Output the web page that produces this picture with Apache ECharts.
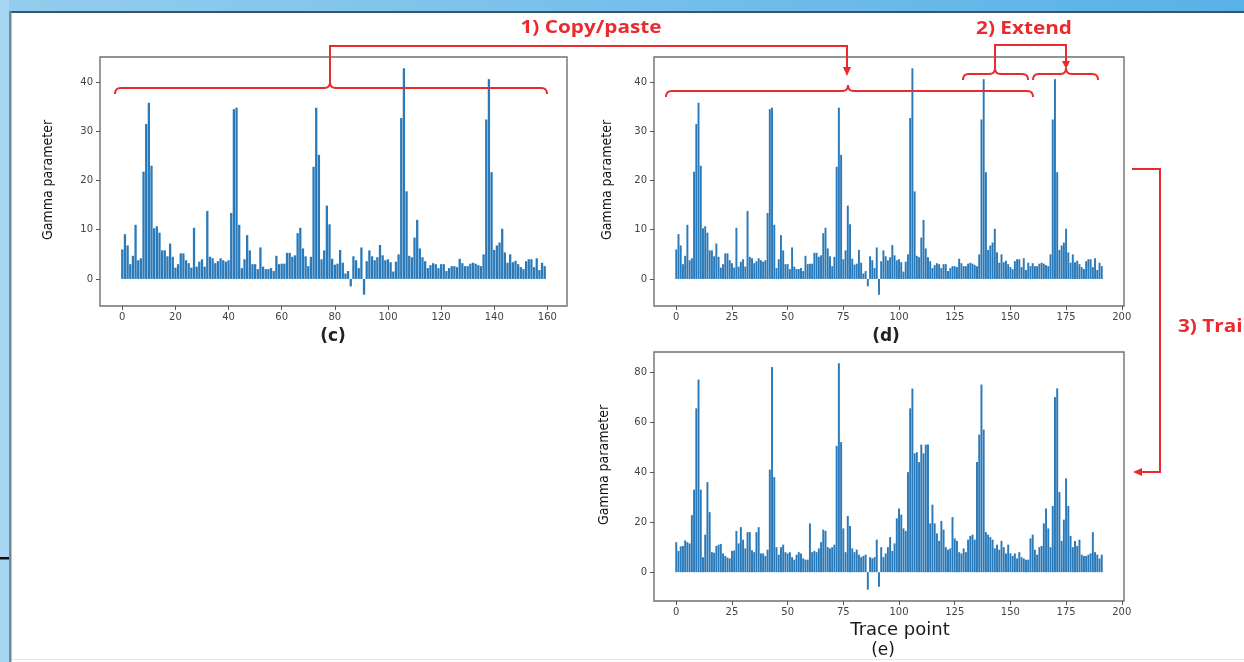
<!DOCTYPE html>
<html>
<head>
<meta charset="utf-8">
<script src="https://cdn.jsdelivr.net/npm/echarts@6.0.0/dist/echarts.min.js"></script>
<style>
html,body{margin:0;padding:0;background:#fff;}
#chart{width:1244px;height:662px;}
</style>
</head>
<body>
<div id="chart"></div>
<script>
// ---- data ----
// (c) original trace, points 0..159
const cValues = [
  6, 9.1, 6.8, 3, 4.7, 11, 3.8, 4.2, 21.8, 31.5,
  35.8, 23, 10.3, 10.7, 9.4, 5.8, 5.8, 4.6, 7.2, 4.5,
  2.3, 3, 5.2, 5.2, 3.8, 3.2, 2.3, 10.4, 2.5, 3.5,
  4, 2.5, 13.8, 4.5, 4.2, 3.2, 3.6, 4.2, 3.8, 3.5,
  3.8, 13.4, 34.5, 34.8, 11, 2.2, 4, 8.9, 5.8, 3,
  3, 2, 6.4, 2.5, 2, 2, 2.2, 1.6, 4.7, 3,
  3.1, 3.1, 5.3, 5.3, 4.5, 4.8, 9.3, 10.4, 6.2, 4.6,
  2.6, 4.5, 22.8, 34.8, 25.2, 4, 5.8, 14.9, 11.1, 4.1,
  2.9, 3.1, 5.9, 3.3, 1.1, 1.6, -1.5, 4.6, 3.8, 2.2,
  6.4, -3.2, 3.6, 5.8, 4.6, 3.8, 4.4, 6.9, 4.8, 3.8,
  4, 3.4, 1.5, 3.5, 5, 32.7, 42.8, 17.8, 4.7, 4.4,
  8.4, 12, 6.2, 4.4, 3.6, 2.2, 2.8, 3.2, 3, 2.2,
  3, 3, 1.6, 2.2, 2.6, 2.6, 2.4, 4.1, 3.2, 2.6,
  2.6, 3.1, 3.3, 3.1, 2.8, 2.6, 5, 32.4, 40.6, 21.7,
  5.9, 6.8, 7.4, 10.2, 5.4, 3.3, 5, 3.4, 3.7, 3,
  2.4, 2, 3.6, 4, 4, 2.4, 4.2, 1.8, 3.3, 2.6
];
// (d) extension, points 160..191 (copy of the last 32 points of (c))
const extendValues = [
  3.2, 2.6, 2.6, 3.1, 3.3, 3.1, 2.8, 2.6, 5, 32.4,
  40.6, 21.7, 5.9, 6.8, 7.4, 10.2, 5.4, 3.3, 5, 3.4,
  3.7, 3, 2.4, 2, 3.6, 4, 4, 2.4, 4.2, 1.8, 3.3, 2.6
];
// (e) trained trace, points 0..191
const eValues = [
  12, 8.5, 10.3, 10.5, 12.7, 12, 11.5, 22.8, 33, 65.5,
  77, 33, 6, 15, 36, 24, 8, 7.8, 10.5, 11,
  11.3, 7.5, 6.5, 5.8, 5.5, 8.5, 8.7, 16.5, 11.5, 18,
  13, 9.5, 16, 16, 8.8, 8, 16, 18, 7.5, 7.5,
  6.5, 9, 41, 82, 38, 10, 7, 10, 11, 8,
  7.5, 8, 6, 5, 7, 8, 7.5, 5.5, 5, 5,
  19.5, 8, 8.5, 8, 9.5, 12, 17, 16.5, 10, 9.5,
  10, 11, 50.5, 83.5, 52, 17.5, 8, 22.5, 18.5, 9.5,
  8, 9, 7, 6, 6.5, 7, -7, 6, 5.5, 6,
  13, -5.8, 10, 6, 7.5, 10, 14, 8.5, 11.5, 21.5,
  25.5, 23, 17.5, 16.5, 40, 65.5, 73.4, 47.5, 48, 44,
  51, 47.5, 51, 51, 19.5, 27, 19.5, 15.5, 12.5, 20.5,
  17, 10, 9, 9.5, 22, 13.5, 12.5, 8, 7.5, 9.5,
  8, 13, 14.5, 15, 13, 44, 55, 75, 57, 16,
  15, 14, 13, 9.5, 11, 9, 12.5, 10, 7.5, 11,
  7.5, 6.5, 7.5, 5.5, 8, 6, 5.5, 5, 5, 13.5,
  15, 9, 7, 10, 10.5, 19.5, 25.5, 17.5, 10, 26.5,
  70, 73.5, 32, 12.5, 21, 37.5, 26.5, 14.5, 10, 12.5,
  10.5, 13, 7, 6.5, 6.5, 7, 7.5, 16, 8, 7,
  5.5, 7
];
const cXTicks = [0, 20, 40, 60, 80, 100, 120, 140, 160];
const dXTicks = [0, 25, 50, 75, 100, 125, 150, 175, 200];
const gammaTicks = [0, 10, 20, 30, 40];
const eYTicks = [0, 20, 40, 60, 80];
const yLabel = 'Gamma parameter';
const xLabel = 'Trace point';
const panelLabels = ['(c)', '(d)', '(e)'];
const stepLabels = ['1) Copy/paste', '2) Extend', '3) Train'];

// ---- build ----
const dValues = cValues.concat(extendValues);
const toPairs = arr => arr.map((v, i) => [i, v]);

function mplLimits(n, vals) {
  const lo = -0.4, hi = n - 1 + 0.4, m = (hi - lo) * 0.05;
  const vmin = Math.min(0, ...vals), vmax = Math.max(...vals), vm = (vmax - vmin) * 0.05;
  return { xmin: lo - m, xmax: hi + m, ymin: vmin - vm, ymax: vmax + vm };
}

const tickFont = { color: '#444', fontSize: 10, fontFamily: 'DejaVu Sans' };
function xAx(gi, lim, ticks) {
  return {
    type: 'value', gridIndex: gi, min: lim.xmin, max: lim.xmax,
    axisLine: { show: false, onZero: false },
    splitLine: { show: false },
    axisTick: { show: true, length: 4, lineStyle: { color: '#555' }, customValues: ticks },
    axisLabel: Object.assign({ customValues: ticks, margin: 6 }, tickFont)
  };
}
function yAx(gi, lim, ticks) {
  return {
    type: 'value', gridIndex: gi, min: lim.ymin, max: lim.ymax,
    axisLine: { show: false, onZero: false },
    splitLine: { show: false },
    axisTick: { show: true, length: 4, lineStyle: { color: '#555' }, customValues: ticks },
    axisLabel: Object.assign({ customValues: ticks, margin: 7 }, tickFont)
  };
}

const limC = mplLimits(cValues.length, cValues);
const limD = mplLimits(dValues.length, dValues);
const limE = mplLimits(eValues.length, eValues);

const gridStyle = { show: true, borderColor: '#707070', borderWidth: 1.4, backgroundColor: 'transparent' };
const barColor = '#2a7aba';
const red = '#ea2a2e';

// curly brace (opening downward) as sampled polyline points
function quad(p0, p1, p2, n) {
  const pts = [];
  for (let k = 1; k <= n; k++) {
    const t = k / n, u = 1 - t;
    pts.push([u * u * p0[0] + 2 * u * t * p1[0] + t * t * p2[0], u * u * p0[1] + 2 * u * t * p1[1] + t * t * p2[1]]);
  }
  return pts;
}
function brace(x1, x2, xc, y, h) {
  let pts = [[x1, y + h]];
  pts = pts.concat(quad([x1, y + h], [x1, y], [x1 + h, y], 6));
  pts.push([xc - h, y]);
  pts = pts.concat(quad([xc - h, y], [xc, y], [xc, y - h], 6));
  pts = pts.concat(quad([xc, y - h], [xc, y], [xc + h, y], 6));
  pts.push([x2 - h, y]);
  pts = pts.concat(quad([x2 - h, y], [x2, y], [x2, y + h], 6));
  return pts;
}
const redLine = { stroke: red, lineWidth: 2, fill: null };
const yLabelFont = '14px "Liberation Sans Narrow", "DejaVu Sans Condensed", "Liberation Sans", sans-serif';

const graphics = [
  // slide frame
  { type: 'rect', z: -10, shape: { x: 0, y: 0, width: 1244, height: 12 },
    style: { fill: new echarts.graphic.LinearGradient(0, 0, 1, 0, [{ offset: 0, color: '#93cdee' }, { offset: 1, color: '#58b1e7' }]) } },
  { type: 'rect', z: -10, shape: { x: 0, y: 0, width: 9, height: 662 }, style: { fill: '#a6d6f1' } },
  { type: 'rect', z: -9, shape: { x: 9, y: 11, width: 1235, height: 2 }, style: { fill: '#3a5568' } },
  { type: 'rect', z: -9, shape: { x: 9, y: 11, width: 2.5, height: 651 }, style: { fill: '#6f8797' } },
  { type: 'rect', z: -9, shape: { x: 0, y: 557, width: 9, height: 2.5 }, style: { fill: '#111' } },
  { type: 'rect', z: -9, shape: { x: 12, y: 659, width: 1232, height: 1 }, style: { fill: '#e6e6e6' } },

  // y labels
  { type: 'text', x: 48, y: 180, rotation: Math.PI / 2, style: { text: yLabel, font: yLabelFont, fill: '#111', align: 'center', verticalAlign: 'middle' } },
  { type: 'text', x: 607, y: 180, rotation: Math.PI / 2, style: { text: yLabel, font: yLabelFont, fill: '#111', align: 'center', verticalAlign: 'middle' } },
  { type: 'text', x: 604, y: 465, rotation: Math.PI / 2, style: { text: yLabel, font: yLabelFont, fill: '#111', align: 'center', verticalAlign: 'middle' } },

  // panel labels
  { type: 'text', x: 333, y: 337, style: { text: panelLabels[0], font: 'bold 17px "DejaVu Sans"', fill: '#222', align: 'center', verticalAlign: 'middle' } },
  { type: 'text', x: 886, y: 337, style: { text: panelLabels[1], font: 'bold 17px "DejaVu Sans"', fill: '#222', align: 'center', verticalAlign: 'middle' } },
  { type: 'text', x: 900, y: 630, style: { text: xLabel, font: '18px "DejaVu Sans"', fill: '#1a1a1a', align: 'center', verticalAlign: 'middle' } },
  { type: 'text', x: 883, y: 651, style: { text: panelLabels[2], font: '17px "DejaVu Sans"', fill: '#1a1a1a', align: 'center', verticalAlign: 'middle' } },

  // step labels
  { type: 'text', z: 100, x: 591, y: 28, scaleX: 1.22, style: { text: stepLabels[0], font: 'bold 17px "Open Sans"', fill: red, align: 'center', verticalAlign: 'middle' } },
  { type: 'text', z: 100, x: 1024, y: 29, scaleX: 1.22, style: { text: stepLabels[1], font: 'bold 17px "Open Sans"', fill: red, align: 'center', verticalAlign: 'middle' } },
  { type: 'text', z: 100, x: 1178, y: 327, scaleX: 1.22, style: { text: stepLabels[2], font: 'bold 17px "Open Sans"', fill: red, align: 'left', verticalAlign: 'middle' } },

  // braces
  { type: 'polyline', z: 100, shape: { points: brace(115, 547, 330, 88, 6) }, style: redLine },
  { type: 'polyline', z: 100, shape: { points: brace(666, 1033, 848, 91, 6) }, style: redLine },
  { type: 'polyline', z: 100, shape: { points: brace(963, 1028, 995, 74, 6) }, style: redLine },
  { type: 'polyline', z: 100, shape: { points: brace(1033, 1098, 1066, 74, 6) }, style: redLine },

  // connector 1
  { type: 'polyline', z: 100, shape: { points: [[330, 82], [330, 46], [847, 46], [847, 68]] }, style: redLine },
  { type: 'polygon', z: 100, shape: { points: [[843, 67], [851, 67], [847, 76]] }, style: { fill: red } },
  // connector 2
  { type: 'polyline', z: 100, shape: { points: [[995, 68], [995, 45], [1066, 45], [1066, 62]] }, style: redLine },
  { type: 'polygon', z: 100, shape: { points: [[1062, 61], [1070, 61], [1066, 69]] }, style: { fill: red } },
  // connector 3
  { type: 'polyline', z: 100, shape: { points: [[1132, 169], [1160, 169], [1160, 472], [1141, 472]] }, style: redLine },
  { type: 'polygon', z: 100, shape: { points: [[1142, 468], [1142, 476], [1133, 472]] }, style: { fill: red } }
];

const option = {
  animation: false,
  backgroundColor: '#ffffff',
  grid: [
    Object.assign({ left: 100, top: 57, width: 467, height: 249 }, gridStyle),
    Object.assign({ left: 654, top: 57, width: 470, height: 249 }, gridStyle),
    Object.assign({ left: 654, top: 352, width: 470, height: 249 }, gridStyle)
  ],
  xAxis: [xAx(0, limC, cXTicks), xAx(1, limD, dXTicks), xAx(2, limE, dXTicks)],
  yAxis: [yAx(0, limC, gammaTicks), yAx(1, limD, gammaTicks), yAx(2, limE, eYTicks)],
  series: [
    { type: 'bar', xAxisIndex: 0, yAxisIndex: 0, data: toPairs(cValues), barWidth: 2.3, itemStyle: { color: barColor } },
    { type: 'bar', xAxisIndex: 1, yAxisIndex: 1, data: toPairs(dValues), barWidth: 1.95, itemStyle: { color: barColor } },
    { type: 'bar', xAxisIndex: 2, yAxisIndex: 2, data: toPairs(eValues), barWidth: 1.95, itemStyle: { color: barColor } }
  ],
  graphic: graphics
};

const chart = echarts.init(document.getElementById('chart'), null, { renderer: 'canvas' });
chart.setOption(option);
</script>
</body>
</html>
